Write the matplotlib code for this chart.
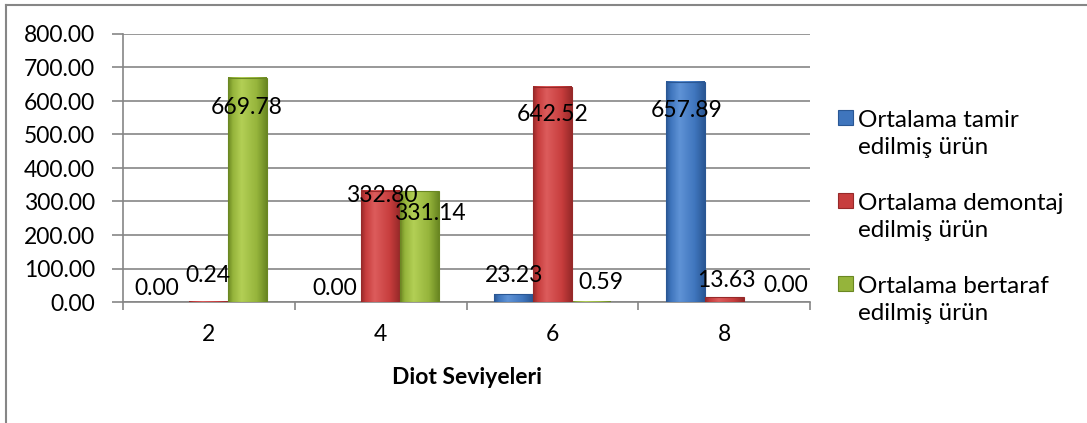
import matplotlib.pyplot as plt
import numpy as np
from matplotlib.colors import LinearSegmentedColormap
from matplotlib.patches import Rectangle
from matplotlib.lines import Line2D

plt.rcParams['font.family'] = ['Lato', 'DejaVu Sans']

levels = ['2', '4', '6', '8']
series = ['Ortalama tamir\nedilmiş ürün',
          'Ortalama demontaj\nedilmiş ürün',
          'Ortalama bertaraf\nedilmiş ürün']
tamir = [0.00, 0.00, 23.23, 657.89]
demontaj = [0.24, 332.80, 642.52, 13.63]
bertaraf = [669.78, 331.14, 0.59, 0.00]
values = [tamir, demontaj, bertaraf]

# dark edge, highlight, base colour for each series
shades = [('#2a5794', '#5f93d6', '#3f75bd'),
          ('#972929', '#dc5c5c', '#c73d3d'),
          ('#6a8722', '#b3cf55', '#95b43b')]

# label nudges in pixels (dx, dy) from the bar's top centre
label_shift = [[(-13, 14), (-7, 14), (1, 19), (1, -29)],
               [(-1, 26), (1, -5), (0, -28), (2, 17)],
               [(-1, -30), (10, -22), (10, 19), (23, 17)]]

W, H = 1087, 423
fig = plt.figure(figsize=(W / 100, H / 100), dpi=100)
ax = fig.add_axes([123 / W, 1 - 302 / H, (810 - 123) / W, (302 - 34) / H])

x = np.arange(len(levels))
width = 0.227
px = 72 / 100
fs = 16.5

for i, vals in enumerate(values):
    dark, light, base = shades[i]
    cmap = LinearSegmentedColormap.from_list(
        's%d' % i, [(0, dark), (0.12, base), (0.35, light), (0.75, base), (1, dark)])
    grad = np.linspace(0, 1, 64).reshape(1, -1)
    for j, v in enumerate(vals):
        xc = x[j] + (i - 1) * width
        if v > 0:
            ax.imshow(grad, cmap=cmap, extent=(xc - width / 2, xc + width / 2, 0, v),
                      aspect='auto', zorder=3, interpolation='bilinear')
            ax.add_patch(Rectangle((xc - width / 2, 0), width, v, fill=False,
                                   edgecolor=dark, lw=0.8, zorder=4))
        dx, dy = label_shift[i][j]
        ax.annotate('%.2f' % v, (xc, v), xytext=(dx * px, dy * px),
                    textcoords='offset points', ha='center', va='center',
                    fontsize=fs, zorder=5)

ax.set_xlim(-0.5, len(levels) - 0.5)
ax.set_ylim(0, 800)
ax.set_yticks(np.arange(0, 801, 100))
ax.set_yticklabels(['%.2f' % t for t in np.arange(0, 801, 100)], fontsize=fs)
ax.set_xticks(x)
ax.set_xticklabels(levels, fontsize=fs)
ax.set_xticks(np.arange(-0.5, len(levels)), minor=True)
ax.tick_params(axis='x', which='major', length=0, pad=16)
ax.tick_params(axis='x', which='minor', length=6, color='#868686', width=1.2)
ax.tick_params(axis='y', length=8, color='#868686', width=1.2, pad=12)
ax.grid(axis='y', color='#868686', lw=1.2, zorder=0)
ax.set_axisbelow(True)
for side in ['top', 'right']:
    ax.spines[side].set_visible(False)
for side in ['left', 'bottom']:
    ax.spines[side].set_color('#868686')
    ax.spines[side].set_linewidth(1.2)
ax.set_xlabel('Diot Seviyeleri', fontsize=fs, fontweight='bold', labelpad=16)

# legend drawn by hand: square marker plus two-line text
for i, name in enumerate(series):
    dark, light, base = shades[i]
    ytop = 118 + i * 83
    fig.patches.append(Rectangle((838 / W, 1 - (ytop + 7) / H), 15 / W, 15 / H,
                                 transform=fig.transFigure, facecolor=base,
                                 edgecolor=dark, lw=0.8))
    fig.text(858 / W, 1 - (ytop + 16) / H, name, fontsize=17.5, va='center',
             ha='left', linespacing=1.4)

# chart frame
fig.add_artist(Line2D([6 / W, 6 / W], [0, 1 - 5 / H], transform=fig.transFigure,
                      color='#868686', lw=1.5))
fig.add_artist(Line2D([6 / W, 1], [1 - 5 / H, 1 - 5 / H], transform=fig.transFigure,
                      color='#868686', lw=1.5))

fig.savefig('out.png', dpi=100)
